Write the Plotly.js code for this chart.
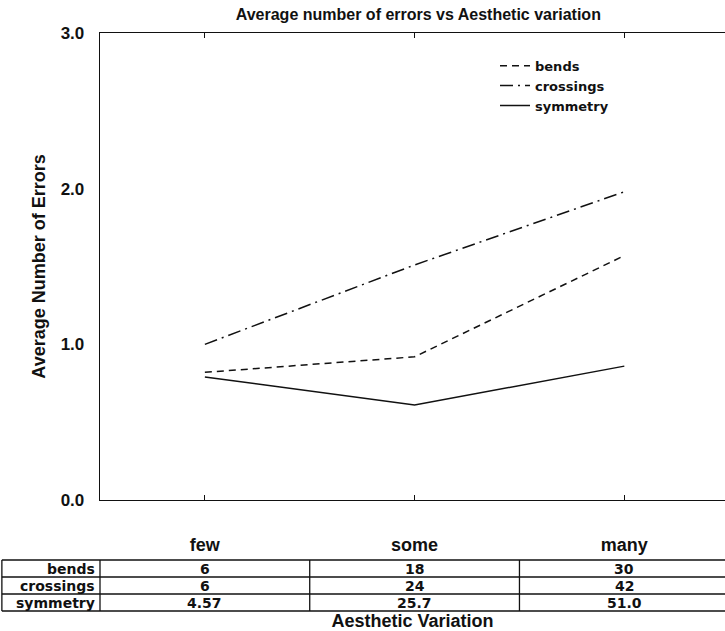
<!DOCTYPE html>
<html>
<head>
<meta charset="utf-8">
<script src="https://cdn.plot.ly/plotly-3.0.1.min.js"></script>
<style>html,body{margin:0;padding:0;background:#fff;}#chart{width:725px;height:631px;}</style>
</head>
<body>
<div id="chart"></div>
<script>
const categories = ['few', 'some', 'many'];
const bends = [0.82, 0.92, 1.57];
const crossings = [1.00, 1.51, 1.98];
const symmetry = [0.79, 0.61, 0.86];
const yTickVals = [0, 1, 2, 3];
const yTickText = ['0.0', '1.0', '2.0', '3.0'];
const tableRowLabels = ['bends', 'crossings', 'symmetry'];
const tableBends = ['6', '18', '30'];
const tableCrossings = ['6', '24', '42'];
const tableSymmetry = ['4.57', '25.7', '51.0'];

const FONT = 'Liberation Sans, Arial, sans-serif';
const WIDE = 'DejaVu Sans, Liberation Sans, sans-serif';
const ink = '#111';
const B = s => '<b>' + s + '</b>';

const traces = [
  {x: categories, y: bends, name: B('bends'), type: 'scatter', mode: 'lines',
   line: {color: ink, width: 1.5, dash: '7px,5px'}},
  {x: categories, y: crossings, name: B('crossings'), type: 'scatter', mode: 'lines',
   line: {color: ink, width: 1.5, dash: '13px,5px,2px,5px'}},
  {x: categories, y: symmetry, name: B('symmetry'), type: 'scatter', mode: 'lines',
   line: {color: ink, width: 1.5}}
];

const plotTop = 33, plotBot = 500, H = 467;
const py = px => (plotBot - px) / H;
const rowEdges = [560, 577, 594, 611];
const shapes = [];
rowEdges.forEach(e => shapes.push({type: 'line', xref: 'paper', yref: 'paper',
  x0: -0.157, x1: 1, y0: py(e), y1: py(e), line: {color: ink, width: 1.3}}));
[-0.157, 0].forEach(xp => shapes.push({type: 'line', xref: 'paper', yref: 'paper',
  x0: xp, x1: xp, y0: py(rowEdges[0]), y1: py(rowEdges[3]), line: {color: ink, width: 1.3}}));
[0.5, 1.5].forEach(xv => shapes.push({type: 'line', xref: 'x', yref: 'paper',
  x0: xv, x1: xv, y0: py(rowEdges[0]), y1: py(rowEdges[3]), line: {color: ink, width: 1.3}}));

const annotations = [];
const tableData = [tableBends, tableCrossings, tableSymmetry];
tableRowLabels.forEach((lab, r) => {
  const yc = py((rowEdges[r] + rowEdges[r + 1]) / 2);
  annotations.push({xref: 'paper', yref: 'paper', x: -0.007, y: yc, xanchor: 'right', yanchor: 'middle',
    text: B(lab), showarrow: false, borderpad: 0, font: {family: WIDE, size: 14, color: ink}});
  tableData[r].forEach((v, c) => annotations.push({xref: 'x', yref: 'paper', x: categories[c], y: yc,
    xanchor: 'center', yanchor: 'middle', text: B(v), showarrow: false, borderpad: 0,
    font: {family: WIDE, size: 14, color: ink}}));
});

const layout = {
  width: 725, height: 631,
  margin: {l: 100, r: 0, t: plotTop, b: 631 - plotBot},
  paper_bgcolor: '#fff', plot_bgcolor: '#fff',
  font: {family: FONT, color: ink, size: 14},
  title: {text: B('Average number of errors vs Aesthetic variation'), font: {family: FONT, size: 16, color: ink},
    x: 0.577, xanchor: 'center', y: 0.977, yanchor: 'middle'},
  showlegend: true,
  legend: {x: 0.632, y: 0.962, xanchor: 'left', yanchor: 'top', bgcolor: 'rgba(0,0,0,0)',
    font: {family: WIDE, size: 13, color: ink}, tracegroupgap: 0},
  xaxis: {type: 'category', range: [-0.5, 2.48], showline: true, linecolor: ink, linewidth: 1.3,
    mirror: 'ticks', ticks: 'inside', ticklen: 5, tickcolor: ink, showgrid: false, zeroline: false,
    tickfont: {family: FONT, size: 18, color: ink}, ticklabelstandoff: 28,
    tickvals: categories, ticktext: categories.map(B),
    title: {text: B('Aesthetic Variation'), font: {family: FONT, size: 18, color: ink}, standoff: 64}},
  yaxis: {range: [0, 3], tickvals: yTickVals, ticktext: yTickText.map(B), showline: true, linecolor: ink,
    linewidth: 1.3, mirror: true, ticks: '', showgrid: false, zeroline: false,
    tickfont: {family: FONT, size: 17, color: ink}, ticklabelstandoff: 11,
    title: {text: B('Average Number of Errors'), font: {family: FONT, size: 18, color: ink}, standoff: 10}},
  yaxis2: {range: [0, 3], overlaying: 'y', side: 'right', tickvals: yTickVals, showticklabels: false,
    ticks: 'inside', ticklen: 5, tickcolor: ink, showgrid: false, zeroline: false, showline: false},
  shapes: shapes,
  annotations: annotations
};

Plotly.newPlot('chart', traces, layout, {displayModeBar: false, staticPlot: true});
</script>
</body>
</html>
